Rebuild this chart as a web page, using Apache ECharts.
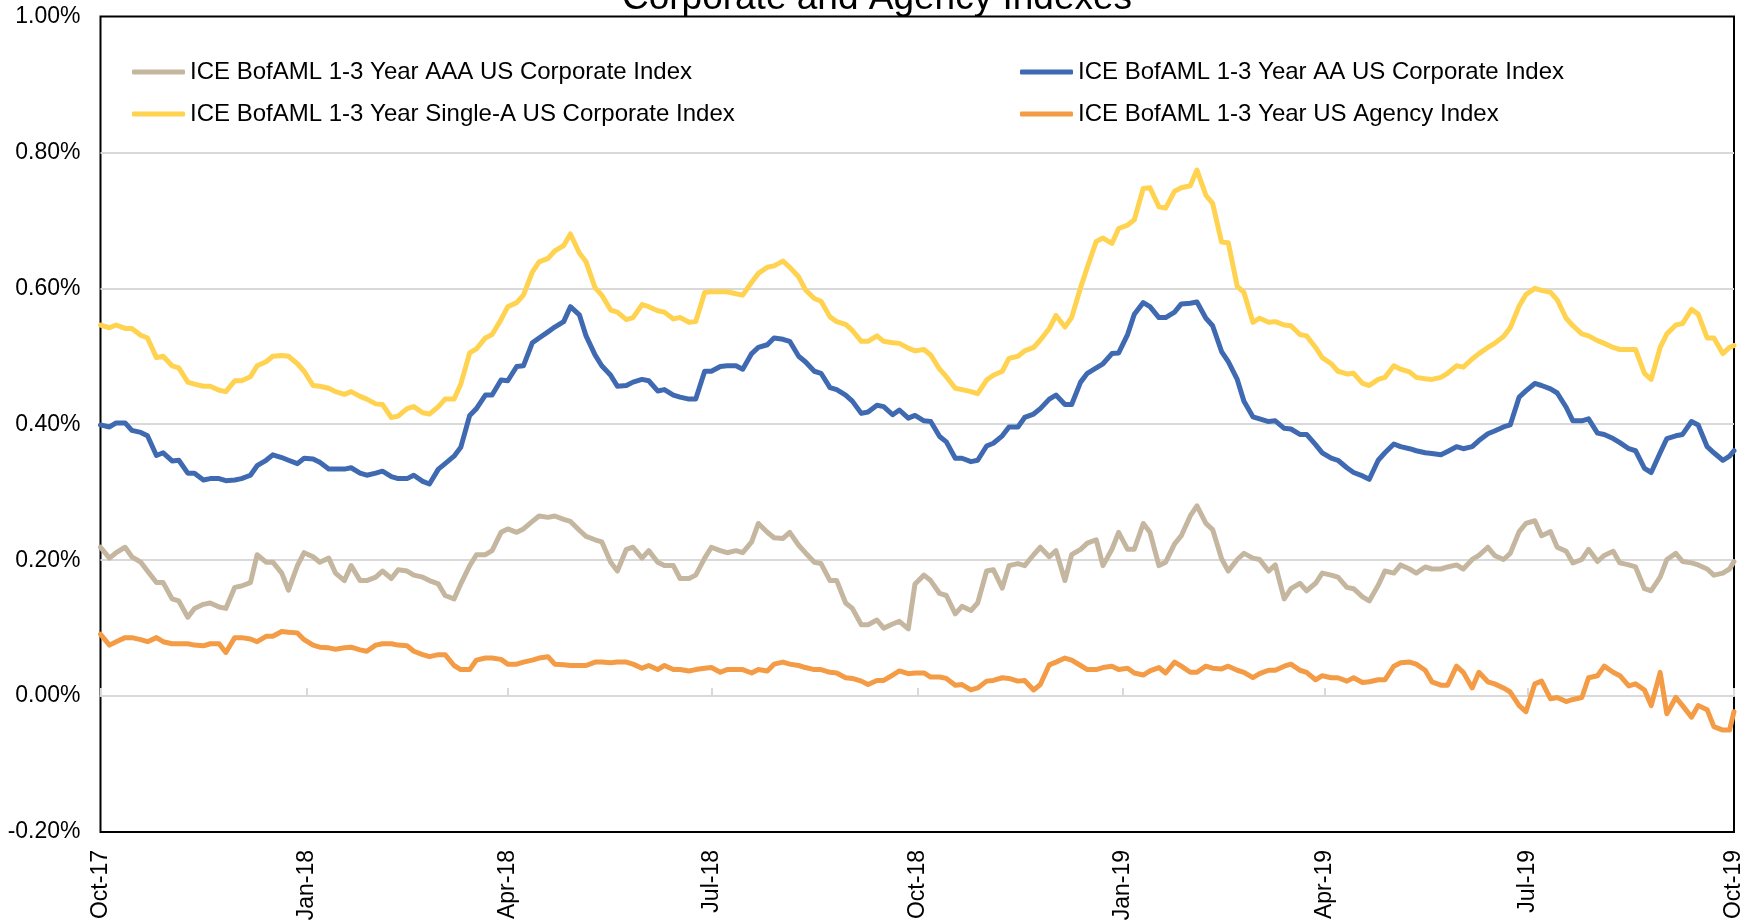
<!DOCTYPE html>
<html>
<head>
<meta charset="utf-8">
<title>Corporate and Agency Indexes</title>
<script src="https://cdn.jsdelivr.net/npm/echarts@6/dist/echarts.min.js"></script>
<style>
  html, body { margin: 0; padding: 0; background: #fff; }
  #main { width: 1754px; height: 921px; }
</style>
</head>
<body>
<div id="main"></div>
<script>
// weekly observation dates (Sundays, last one is the month end)
const weekDates = [
  '2017-10-01','2017-10-08','2017-10-15','2017-10-22','2017-10-29','2017-11-05','2017-11-12','2017-11-19','2017-11-26',
  '2017-12-03','2017-12-10','2017-12-17','2017-12-24','2017-12-31','2018-01-07','2018-01-14','2018-01-21','2018-01-28',
  '2018-02-04','2018-02-11','2018-02-18','2018-02-25','2018-03-04','2018-03-11','2018-03-18','2018-03-25','2018-04-01',
  '2018-04-08','2018-04-15','2018-04-22','2018-04-29','2018-05-06','2018-05-13','2018-05-20','2018-05-27','2018-06-03',
  '2018-06-10','2018-06-17','2018-06-24','2018-07-01','2018-07-08','2018-07-15','2018-07-22','2018-07-29','2018-08-05',
  '2018-08-12','2018-08-19','2018-08-26','2018-09-02','2018-09-09','2018-09-16','2018-09-23','2018-09-30','2018-10-07',
  '2018-10-14','2018-10-21','2018-10-28','2018-11-04','2018-11-11','2018-11-18','2018-11-25','2018-12-02','2018-12-09',
  '2018-12-16','2018-12-23','2018-12-30','2019-01-06','2019-01-13','2019-01-20','2019-01-27','2019-02-03','2019-02-10',
  '2019-02-17','2019-02-24','2019-03-03','2019-03-10','2019-03-17','2019-03-24','2019-03-31','2019-04-07','2019-04-14',
  '2019-04-21','2019-04-28','2019-05-05','2019-05-12','2019-05-19','2019-05-26','2019-06-02','2019-06-09','2019-06-16',
  '2019-06-23','2019-06-30','2019-07-07','2019-07-14','2019-07-21','2019-07-28','2019-08-04','2019-08-11','2019-08-18',
  '2019-08-25','2019-09-01','2019-09-08','2019-09-15','2019-09-22','2019-09-29','2019-10-01'
];
// midweek observation dates (Thursdays)
const midDates = [
  '2017-10-05','2017-10-12','2017-10-19','2017-10-26','2017-11-02','2017-11-09','2017-11-16','2017-11-23','2017-11-30',
  '2017-12-07','2017-12-14','2017-12-21','2017-12-28','2018-01-04','2018-01-11','2018-01-18','2018-01-25','2018-02-01',
  '2018-02-08','2018-02-15','2018-02-22','2018-03-01','2018-03-08','2018-03-15','2018-03-22','2018-03-29','2018-04-05',
  '2018-04-12','2018-04-19','2018-04-26','2018-05-03','2018-05-10','2018-05-17','2018-05-24','2018-05-31','2018-06-07',
  '2018-06-14','2018-06-21','2018-06-28','2018-07-05','2018-07-12','2018-07-19','2018-07-26','2018-08-02','2018-08-09',
  '2018-08-16','2018-08-23','2018-08-30','2018-09-06','2018-09-13','2018-09-20','2018-09-27','2018-10-04','2018-10-11',
  '2018-10-18','2018-10-25','2018-11-01','2018-11-08','2018-11-15','2018-11-22','2018-11-29','2018-12-06','2018-12-13',
  '2018-12-20','2018-12-27','2019-01-03','2019-01-10','2019-01-17','2019-01-24','2019-01-31','2019-02-07','2019-02-14',
  '2019-02-21','2019-02-28','2019-03-07','2019-03-14','2019-03-21','2019-03-28','2019-04-04','2019-04-11','2019-04-18',
  '2019-04-25','2019-05-02','2019-05-09','2019-05-16','2019-05-23','2019-05-30','2019-06-06','2019-06-13','2019-06-20',
  '2019-06-27','2019-07-04','2019-07-11','2019-07-18','2019-07-25','2019-08-01','2019-08-08','2019-08-15','2019-08-22',
  '2019-08-29','2019-09-05','2019-09-12','2019-09-19','2019-09-26'
];

// values in percent, AAA
const aaaWeek = [
  0.219,0.211,0.205,0.184,0.167,0.14,0.129,0.137,0.129,0.162,0.208,0.197,0.156,0.211,0.197,0.181,0.192,0.17,0.184,0.186,
  0.178,0.17,0.148,0.165,0.208,0.214,0.246,0.246,0.265,0.265,0.257,0.235,0.227,0.184,0.219,
  0.214,0.192,0.173,0.178,0.219,0.211,0.211,0.254,0.233,0.241,0.211,0.195,0.17,0.129,0.105,0.10,0.11,0.165,0.17,0.148,
  0.132,0.137,0.186,0.192,0.192,0.219,0.214,0.208,0.225,0.192,0.241,0.216,0.241,0.197,
  0.236,0.28,0.245,0.184,0.21,0.201,0.193,0.158,0.155,0.181,0.175,0.158,0.14,0.184,0.193,0.181,0.187,0.19,0.187,0.207,
  0.207,0.21,0.254,0.236,0.219,0.196,0.216,0.207,0.196,0.19,0.155,0.201,0.198,0.193,0.178,0.187,0.198
];
const aaaMid = [
  0.203,0.219,0.197,0.167,0.143,0.116,0.135,0.131,0.16,0.167,0.197,0.181,0.192,0.205,0.203,0.17,0.17,0.175,0.173,0.184,
  0.175,0.165,0.143,0.192,0.208,0.241,0.241,0.257,0.263,0.26,0.244,0.23,0.197,0.216,
  0.203,0.197,0.192,0.173,0.203,0.214,0.214,0.227,0.241,0.232,0.222,0.197,0.17,0.137,0.105,0.112,0.106,0.099,0.178,0.151,
  0.121,0.126,0.184,0.159,0.195,0.208,0.205,0.17,0.216,0.23,0.216,0.216,0.254,0.192,0.224,
  0.265,0.254,0.202,0.201,0.203,0.184,0.143,0.166,0.166,0.178,0.16,0.146,0.163,0.181,0.187,0.19,0.187,0.193,0.201,0.219,
  0.201,0.242,0.258,0.242,0.213,0.201,0.198,0.213,0.193,0.158,0.175,0.21,0.196,0.187,0.181
];
// AA
const aaWeek = [
  0.399,0.402,0.391,0.383,0.358,0.347,0.328,0.32,0.317,0.32,0.339,0.355,0.347,0.35,0.344,0.334,0.336,0.325,0.331,0.32,
  0.325,0.312,0.342,0.366,0.423,0.443,0.464,0.486,0.527,0.543,0.573,0.53,0.486,0.456,0.462,
  0.464,0.451,0.44,0.437,0.478,0.486,0.481,0.513,0.527,0.522,0.492,0.475,0.451,0.434,0.418,0.426,0.421,0.413,0.404,0.374,
  0.35,0.347,0.372,0.396,0.41,0.423,0.443,0.429,0.475,0.489,0.505,0.562,0.573,0.557,
  0.577,0.58,0.545,0.492,0.434,0.408,0.405,0.393,0.385,0.358,0.347,0.329,0.319,0.358,0.367,0.361,0.357,0.36,0.364,0.376,
  0.39,0.399,0.449,0.457,0.446,0.405,0.408,0.385,0.373,0.361,0.329,0.379,0.385,0.399,0.358,0.353,0.361
];
const aaMid = [
  0.396,0.402,0.388,0.354,0.346,0.328,0.318,0.32,0.318,0.325,0.347,0.351,0.342,0.349,0.334,0.334,0.328,0.328,0.323,0.32,
  0.316,0.334,0.353,0.413,0.443,0.465,0.485,0.52,0.536,0.551,0.561,0.502,0.472,0.457,
  0.466,0.449,0.443,0.437,0.478,0.485,0.486,0.504,0.517,0.525,0.5,0.478,0.454,0.443,0.416,0.428,0.414,0.409,0.405,0.382,
  0.35,0.345,0.368,0.383,0.396,0.415,0.437,0.429,0.462,0.483,0.504,0.532,0.579,0.557,0.565,
  0.578,0.556,0.507,0.466,0.411,0.404,0.394,0.385,0.37,0.35,0.336,0.324,0.347,0.371,0.364,0.358,0.355,0.367,0.367,0.386,
  0.396,0.44,0.46,0.452,0.425,0.405,0.387,0.379,0.364,0.335,0.358,0.383,0.404,0.367,0.347
];
// Single-A
const singleAWeek = [
  0.546,0.546,0.541,0.527,0.50,0.483,0.459,0.456,0.448,0.464,0.486,0.50,0.50,0.478,0.456,0.448,0.448,0.437,0.429,0.412,
  0.426,0.415,0.437,0.459,0.511,0.532,0.573,0.59,0.639,0.655,0.68,0.639,0.59,0.565,0.557,
  0.573,0.565,0.557,0.551,0.595,0.595,0.59,0.622,0.633,0.631,0.598,0.581,0.551,0.538,0.522,0.522,0.519,0.508,0.502,0.47,
  0.451,0.445,0.472,0.497,0.508,0.524,0.56,0.557,0.631,0.674,0.688,0.701,0.748,0.718,
  0.748,0.774,0.725,0.667,0.594,0.556,0.551,0.545,0.53,0.498,0.478,0.475,0.457,0.469,0.481,0.469,0.466,0.475,0.484,0.504,
  0.519,0.542,0.591,0.597,0.583,0.545,0.53,0.519,0.51,0.51,0.466,0.533,0.548,0.562,0.527,0.513,0.516
];
const singleAMid = [
  0.542,0.541,0.531,0.498,0.486,0.462,0.456,0.45,0.464,0.47,0.492,0.501,0.489,0.457,0.453,0.444,0.441,0.43,0.41,0.423,
  0.417,0.426,0.437,0.505,0.527,0.554,0.579,0.624,0.644,0.663,0.652,0.601,0.568,0.554,
  0.576,0.567,0.555,0.55,0.594,0.595,0.592,0.609,0.631,0.64,0.617,0.585,0.558,0.547,0.522,0.53,0.52,0.512,0.51,0.481,
  0.453,0.448,0.465,0.478,0.5,0.513,0.541,0.543,0.601,0.669,0.666,0.693,0.747,0.72,0.743,
  0.751,0.737,0.668,0.603,0.55,0.55,0.546,0.532,0.513,0.489,0.474,0.46,0.466,0.486,0.477,0.467,0.469,0.486,0.496,0.513,
  0.529,0.574,0.6,0.594,0.556,0.533,0.523,0.513,0.51,0.475,0.513,0.546,0.569,0.527,0.504
];
// Agency
const agencyWeek = [
  0.091,0.08,0.086,0.08,0.08,0.077,0.075,0.077,0.064,0.086,0.08,0.088,0.094,0.083,0.072,0.069,0.072,0.066,0.077,0.075,
  0.066,0.058,0.061,0.039,0.053,0.056,0.047,0.05,0.056,0.047,0.045,0.045,0.05,0.05,0.047,
  0.045,0.045,0.039,0.039,0.042,0.039,0.039,0.039,0.047,0.047,0.042,0.039,0.034,0.026,0.017,0.023,0.037,0.034,0.028,0.026,
  0.017,0.012,0.023,0.026,0.023,0.017,0.05,0.053,0.039,0.042,0.039,0.034,0.037,0.034,
  0.044,0.035,0.041,0.044,0.035,0.033,0.038,0.047,0.035,0.03,0.027,0.027,0.021,0.024,0.049,0.047,0.021,0.016,0.035,0.035,
  0.018,0.006,-0.023,0.022,-0.002,-0.005,0.027,0.044,0.03,0.018,-0.014,-0.026,-0.014,-0.014,-0.045,-0.05,-0.023
];
const agencyMid = [
  0.075,0.086,0.083,0.086,0.077,0.077,0.074,0.077,0.086,0.084,0.088,0.095,0.093,0.075,0.071,0.071,0.068,0.075,0.077,0.074,
  0.061,0.061,0.045,0.039,0.056,0.054,0.047,0.053,0.058,0.046,0.045,0.05,0.049,0.05,
  0.041,0.039,0.039,0.037,0.041,0.035,0.039,0.034,0.037,0.05,0.045,0.039,0.035,0.027,0.022,0.023,0.031,0.033,0.034,0.028,
  0.016,0.009,0.022,0.027,0.022,0.009,0.046,0.056,0.045,0.039,0.044,0.041,0.031,0.042,0.05,
  0.035,0.044,0.04,0.038,0.027,0.038,0.044,0.038,0.024,0.027,0.022,0.02,0.024,0.044,0.05,0.038,0.016,0.044,0.012,0.021,
  0.012,-0.014,0.018,-0.004,-0.008,-0.002,0.03,0.035,0.015,0.009,0.035,-0.002,-0.031,-0.02,-0.05
];

// quarter tick labels on the date axis
const quarterTicks = ['2017-10-01','2018-01-01','2018-04-01','2018-07-01','2018-10-01',
                      '2019-01-01','2019-04-01','2019-07-01','2019-10-01'];
const monthNames = ['Jan','Feb','Mar','Apr','May','Jun','Jul','Aug','Sep','Oct','Nov','Dec'];

const names = [
  'ICE BofAML 1-3 Year AAA US Corporate Index',
  'ICE BofAML 1-3 Year AA US Corporate Index',
  'ICE BofAML 1-3 Year Single-A US Corporate Index',
  'ICE BofAML 1-3 Year US Agency Index'
];
const colors = ['#C5B6A0', '#3F6AB2', '#FFD250', '#F49B46'];
const weekVals = [aaaWeek, aaWeek, singleAWeek, agencyWeek];
const midVals = [aaaMid, aaMid, singleAMid, agencyMid];

const font = "'Liberation Sans', Arial, sans-serif";

//日期字符串转时间戳
const toTime = (s) => {
  const p = s.split('-');
  return new Date(+p[0], +p[1] - 1, +p[2]).getTime();
};
const tickTimes = quarterTicks.map(toTime);
const fmtDate = (v) => {
  const d = new Date(v);
  return monthNames[d.getMonth()] + '-' + String(d.getFullYear()).slice(2);
};
const xMin = toTime(weekDates[0]);
const xMax = toTime(weekDates[weekDates.length - 1]);

//合并周度和周中数据并按日期排序
const buildData = (i) => weekDates.map((d, j) => [toTime(d), weekVals[i][j]])
  .concat(midDates.map((d, j) => [toTime(d), midVals[i][j]]))
  .sort((a, b) => a[0] - b[0]);

const legendPos = [[127, 55], [1015, 55], [127, 97], [1015, 97]];

const option = {
  animation: false,
  backgroundColor: '#fff',
  title: {
    text: 'Corporate and Agency Indexes',
    left: 'center', top: -25,
    textStyle: { fontFamily: font, fontSize: 37, fontWeight: 'normal', color: '#000' }
  },
  legend: names.map((n, i) => ({
    data: [n], left: legendPos[i][0], top: legendPos[i][1],
    icon: 'roundRect', itemWidth: 53, itemHeight: 5, itemGap: 0,
    textStyle: { fontFamily: font, fontSize: 24, color: '#000' },
    selectedMode: false
  })),
  grid: {
    left: 100.5, right: 20, top: 16.5, bottom: 89,
    show: true, borderColor: '#000', borderWidth: 2,
    outerBoundsMode: 'none'
  },
  xAxis: [
    {
      type: 'value', min: xMin, max: xMax, position: 'bottom',
      axisLine: { show: false, onZero: false },
      axisTick: { show: false },
      splitLine: { show: false },
      axisLabel: {
        customValues: tickTimes, formatter: fmtDate, rotate: 90, margin: 18,
        fontFamily: font, fontSize: 23, color: '#000'
      }
    },
    {
      type: 'value', min: xMin, max: xMax,
      axisLine: { show: true, onZero: true, lineStyle: { color: '#d9d9d9', width: 2 } },
      axisTick: { show: true, customValues: tickTimes, length: 8, lineStyle: { color: '#d9d9d9', width: 2 } },
      axisLabel: { show: false },
      splitLine: { show: false }
    }
  ],
  yAxis: {
    type: 'value', min: -0.2, max: 1.0, interval: 0.2,
    axisLine: { show: false }, axisTick: { show: false },
    splitLine: {
      show: true, showMinLine: false, showMaxLine: false,
      lineStyle: { color: '#d9d9d9', width: 2 }
    },
    axisLabel: {
      formatter: (v) => v.toFixed(2) + '%', margin: 20,
      fontFamily: font, fontSize: 23, color: '#000'
    }
  },
  series: names.map((n, i) => ({
    name: n, type: 'line', xAxisIndex: 0, showSymbol: false, symbol: 'none',
    color: colors[i],
    lineStyle: { width: 5, color: colors[i], cap: 'round', join: 'round' },
    data: buildData(i)
  }))
};

echarts.init(document.getElementById('main')).setOption(option);
</script>
</body>
</html>
